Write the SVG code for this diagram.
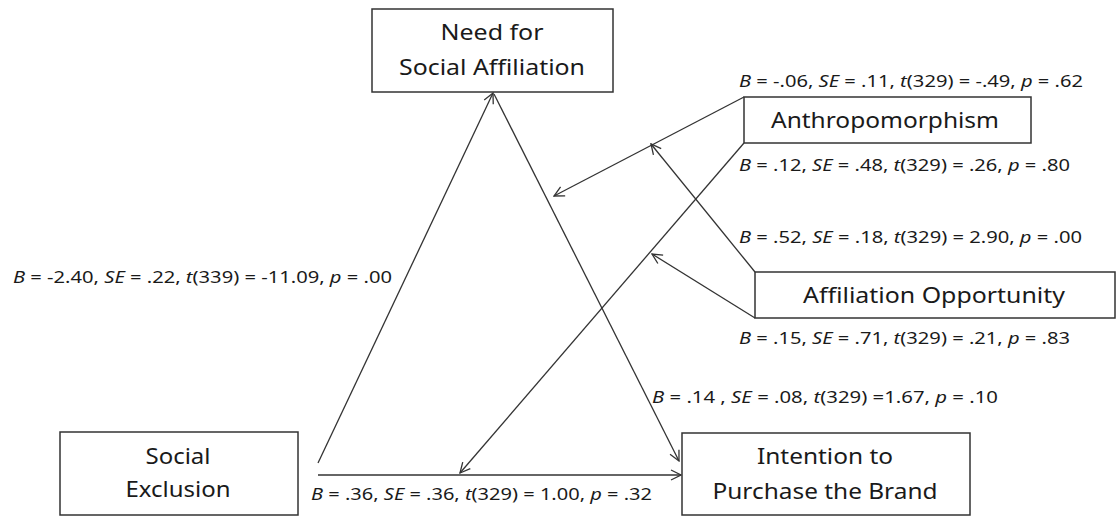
<svg xmlns="http://www.w3.org/2000/svg" width="1116" height="516" viewBox="0 0 1116 516">
<style>
.box{fill:#fff;stroke:#333;stroke-width:1.5}
.nt{font-family:"Noto Sans","Open Sans",sans-serif;font-size:21px;fill:#1a1a1a;text-anchor:middle}
.lb{font-family:"Noto Sans","Open Sans",sans-serif;font-size:17px;fill:#1a1a1a}
.i{font-style:italic}
.cn{stroke:#333;stroke-width:1.3;fill:none}
</style>
<defs>
<marker id="arr" viewBox="0 0 12 12" refX="11" refY="6" markerWidth="12" markerHeight="12" orient="auto" markerUnits="userSpaceOnUse">
<path d="M1,1 L11,6 L1,11" fill="none" stroke="#333" stroke-width="1.3"/>
</marker>
</defs>
<rect width="1116" height="516" fill="#fff"/>
<g id="connectors">
<line class="cn" x1="318" y1="463" x2="493" y2="93" marker-end="url(#arr)"/>
<line class="cn" x1="494" y1="94" x2="679" y2="461" marker-end="url(#arr)"/>
<line class="cn" x1="318" y1="475" x2="681" y2="475" marker-end="url(#arr)"/>
<line class="cn" x1="744" y1="97" x2="554" y2="196" marker-end="url(#arr)"/>
<line class="cn" x1="744" y1="143" x2="460" y2="473" marker-end="url(#arr)"/>
<line class="cn" x1="755" y1="272" x2="651" y2="144" marker-end="url(#arr)"/>
<line class="cn" x1="755" y1="318" x2="652" y2="254" marker-end="url(#arr)"/>
</g>
<g id="need">
<rect class="box" x="372" y="9" width="241" height="83"/>
<text class="nt" x="492" y="40" textLength="103" lengthAdjust="spacingAndGlyphs">Need for</text>
<text class="nt" x="492" y="75" textLength="186" lengthAdjust="spacingAndGlyphs">Social Affiliation</text>
</g>
<g id="anthro">
<rect class="box" x="744" y="97" width="287" height="46"/>
<text class="nt" x="885" y="128" textLength="228" lengthAdjust="spacingAndGlyphs">Anthropomorphism</text>
</g>
<g id="affil">
<rect class="box" x="755" y="272" width="360" height="46"/>
<text class="nt" x="934" y="303" textLength="262" lengthAdjust="spacingAndGlyphs">Affiliation  Opportunity</text>
</g>
<g id="social">
<rect class="box" x="60" y="432" width="238" height="83"/>
<text class="nt" x="178" y="464" textLength="65" lengthAdjust="spacingAndGlyphs">Social</text>
<text class="nt" x="178" y="497" textLength="105" lengthAdjust="spacingAndGlyphs">Exclusion</text>
</g>
<g id="intention">
<rect class="box" x="682" y="433" width="288" height="82"/>
<text class="nt" x="825" y="464" textLength="136" lengthAdjust="spacingAndGlyphs">Intention to</text>
<text class="nt" x="825" y="499" textLength="225" lengthAdjust="spacingAndGlyphs">Purchase the Brand</text>
</g>
<g id="labels">
<text class="lb" x="739" y="87" textLength="344" lengthAdjust="spacingAndGlyphs"><tspan class="i">B</tspan> = -.06, <tspan class="i">SE</tspan> = .11, <tspan class="i">t</tspan>(329) = -.49, <tspan class="i">p</tspan> = .62</text>
<text class="lb" x="739" y="171" textLength="331" lengthAdjust="spacingAndGlyphs"><tspan class="i">B</tspan> = .12, <tspan class="i">SE</tspan> = .48, <tspan class="i">t</tspan>(329) = .26, <tspan class="i">p</tspan> = .80</text>
<text class="lb" x="739" y="243" textLength="343" lengthAdjust="spacingAndGlyphs"><tspan class="i">B</tspan> = .52, <tspan class="i">SE</tspan> = .18, <tspan class="i">t</tspan>(329) = 2.90, <tspan class="i">p</tspan> = .00</text>
<text class="lb" x="739" y="344" textLength="331" lengthAdjust="spacingAndGlyphs"><tspan class="i">B</tspan> = .15, <tspan class="i">SE</tspan> = .71, <tspan class="i">t</tspan>(329) = .21, <tspan class="i">p</tspan> = .83</text>
<text class="lb" x="13" y="283" textLength="379" lengthAdjust="spacingAndGlyphs"><tspan class="i">B</tspan> = -2.40, <tspan class="i">SE</tspan> = .22, <tspan class="i">t</tspan>(339) = -11.09, <tspan class="i">p</tspan> = .00</text>
<text class="lb" x="311" y="500" textLength="341" lengthAdjust="spacingAndGlyphs"><tspan class="i">B</tspan> = .36, <tspan class="i">SE</tspan> = .36, <tspan class="i">t</tspan>(329) = 1.00, <tspan class="i">p</tspan> = .32</text>
<text class="lb" x="652" y="403" textLength="346" lengthAdjust="spacingAndGlyphs"><tspan class="i">B</tspan> = .14 , <tspan class="i">SE</tspan> = .08, <tspan class="i">t</tspan>(329) =1.67, <tspan class="i">p</tspan> = .10</text>
</g>
</svg>
